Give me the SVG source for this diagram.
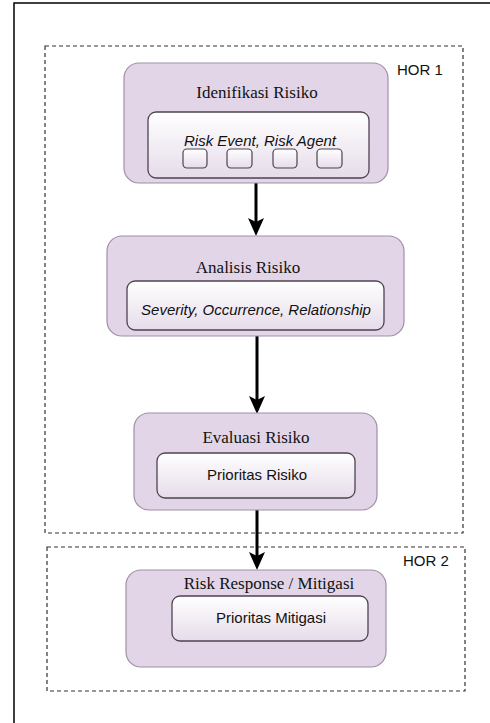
<svg xmlns="http://www.w3.org/2000/svg" width="490" height="723" viewBox="0 0 490 723">
<defs>
<linearGradient id="g" x1="0" y1="0" x2="0" y2="1">
<stop offset="0" stop-color="#ffffff"/>
<stop offset="1" stop-color="#e6dcea"/>
</linearGradient>
</defs>
<style>
.outer{fill:#e1d5e7;stroke:#a08fa8;stroke-width:1.2}
.inner{fill:url(#g);stroke:#4d4450;stroke-width:1.3}
.sq{fill:url(#g);stroke:#4d4450;stroke-width:1.2}
.grp{fill:none;stroke:#333;stroke-width:1.2;stroke-dasharray:4 3}
.title{font-family:"Liberation Serif",serif;font-size:17px;fill:#111;text-anchor:middle}
.lbl{font-family:"Liberation Sans",sans-serif;font-size:15px;fill:#111;text-anchor:middle}
.it{font-style:italic}
.hor{font-family:"Liberation Sans",sans-serif;font-size:15px;fill:#111}
.conn{stroke:#000;stroke-width:3;fill:none}
.head{fill:#000}
</style>
<rect width="490" height="723" fill="#fff"/>
<path d="M14,723 L14,3 L490,3" fill="none" stroke="#000" stroke-width="1.5"/>
<g id="hor1">
<rect class="grp" x="45" y="46" width="418" height="487"/>
<text class="hor" x="397" y="75">HOR 1</text>
</g>
<g id="hor2">
<rect class="grp" x="47" y="547" width="418" height="144"/>
<text class="hor" x="403" y="566">HOR 2</text>
</g>
<g id="connectors">
<line class="conn" x1="256" y1="183" x2="256" y2="225"/>
<path class="head" d="M248,218 L256,222 L264,218 L256,236 Z"/>
<line class="conn" x1="257" y1="336" x2="257" y2="402"/>
<path class="head" d="M249,396 L257,400 L265,396 L257,414 Z"/>
<line class="conn" x1="257" y1="510" x2="257" y2="558"/>
<path class="head" d="M249,552 L257,556 L265,552 L257,570 Z"/>
</g>
<g id="identifikasi">
<rect class="outer" x="124" y="63" width="264" height="120" rx="15"/>
<text class="title" x="257" y="98">Idenifikasi Risiko</text>
<rect class="inner" x="148" y="112" width="221" height="66" rx="8"/>
<text class="lbl it" x="260" y="146">Risk Event, Risk Agent</text>
<rect class="sq" x="183" y="149" width="24" height="19" rx="4"/>
<rect class="sq" x="227" y="149" width="25" height="19" rx="4"/>
<rect class="sq" x="273" y="149" width="24" height="19" rx="4"/>
<rect class="sq" x="317" y="149" width="25" height="19" rx="4"/>
</g>
<g id="analisis">
<rect class="outer" x="107" y="236" width="297" height="100" rx="15"/>
<text class="title" x="248" y="273">Analisis Risiko</text>
<rect class="inner" x="127" y="281" width="257" height="49" rx="8"/>
<text class="lbl it" x="256" y="315">Severity, Occurrence, Relationship</text>
</g>
<g id="evaluasi">
<rect class="outer" x="134" y="413" width="243" height="97" rx="15"/>
<text class="title" x="256" y="443">Evaluasi Risiko</text>
<rect class="inner" x="157" y="453" width="198" height="45" rx="8"/>
<text class="lbl" x="257" y="480">Prioritas Risiko</text>
</g>
<g id="mitigasi">
<rect class="outer" x="126" y="570" width="260" height="97" rx="15"/>
<text class="title" x="269" y="589">Risk Response / Mitigasi</text>
<rect class="inner" x="172" y="596" width="196" height="45" rx="8"/>
<text class="lbl" x="271" y="623">Prioritas Mitigasi</text>
</g>
</svg>
